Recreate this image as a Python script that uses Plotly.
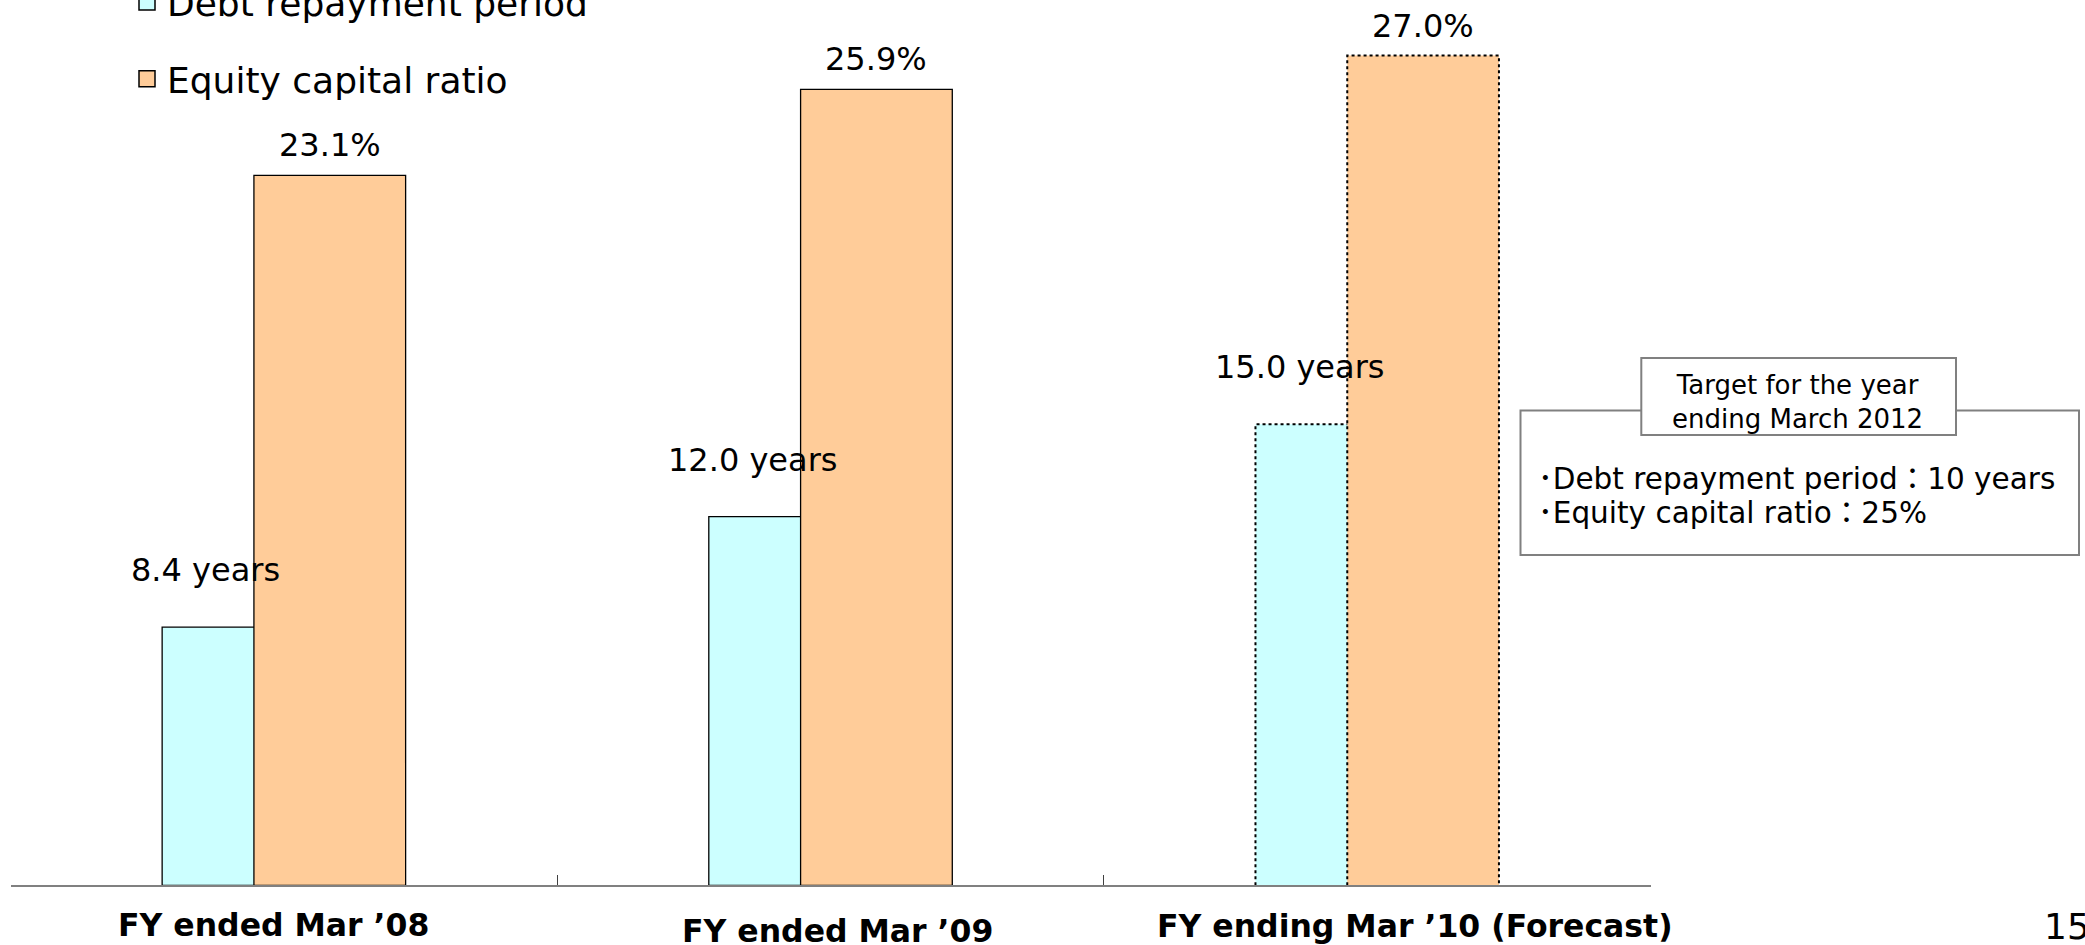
import plotly.graph_objects as go

# ---------------- data ----------------
categories = ["FY ended Mar ’08", "FY ended Mar ’09", "FY ending Mar ’10 (Forecast)"]
debt_years = [8.4, 12.0, 15.0]
equity_ratio = [23.1, 25.9, 27.0]
debt_labels = ["8.4 years", "12.0 years", "15.0 years"]
equity_labels = ["23.1%", "25.9%", "27.0%"]
series_names = ["Debt repayment period", "Equity capital ratio"]
is_forecast = [False, False, True]
target_title = "Target for the year<br>ending March 2012"
target_lines = ["･Debt repayment period：10 years", "･Equity capital ratio：25%"]
page_number = "15"

# ---------------- layout constants ----------------
W, H = 2085, 945
CYAN = "#CCFFFF"
ORANGE = "#FFCC99"
FONT = "DejaVu Sans, Noto Sans CJK JP, sans-serif"
BAR_W = 0.2775
OFF_D = -0.2228
OFF_E = -0.0549
Y_TOP = 28.81

xs = list(range(len(categories)))

fig = go.Figure()

fig.add_trace(go.Bar(
    x=xs, y=debt_years, width=BAR_W, offset=OFF_D, name=series_names[0],
    marker=dict(color=CYAN, line=dict(color="black", width=[0 if f else 1.3 for f in is_forecast])),
    showlegend=False, hoverinfo="skip"))
fig.add_trace(go.Bar(
    x=xs, y=equity_ratio, width=BAR_W, offset=OFF_E, name=series_names[1],
    marker=dict(color=ORANGE, line=dict(color="black", width=[0 if f else 1.3 for f in is_forecast])),
    showlegend=False, hoverinfo="skip"))

# dotted outlines for forecast bars
for i, f in enumerate(is_forecast):
    if not f:
        continue
    xl = i + OFF_D
    xe = i + OFF_E
    fig.add_trace(go.Scatter(
        x=[xl, xl, xe], y=[0, debt_years[i], debt_years[i]], mode="lines",
        line=dict(color="black", width=2, dash="3px,3px"), showlegend=False, hoverinfo="skip"))
    fig.add_trace(go.Scatter(
        x=[xe, xe, xe + BAR_W, xe + BAR_W], y=[0, equity_ratio[i], equity_ratio[i], 0], mode="lines",
        line=dict(color="black", width=2, dash="3px,3px"), showlegend=False, hoverinfo="skip"))

# legend entries
for name, col in zip(series_names, [CYAN, ORANGE]):
    fig.add_trace(go.Scatter(
        x=[None], y=[None], mode="markers", name=name, legendgroup=name,
        marker=dict(symbol="square", size=16, color=col, line=dict(color="black", width=1.5))))

annotations = []
for i in xs:
    annotations.append(dict(
        x=i + OFF_D + BAR_W / 2, y=debt_years[i], xref="x", yref="y",
        text=debt_labels[i], showarrow=False, xshift=-32, yshift=57, yanchor="middle",
        xanchor="center",
        font=dict(family=FONT, size=32, color="black")))
    annotations.append(dict(
        x=i + OFF_E + BAR_W / 2, y=equity_ratio[i], xref="x", yref="y",
        text=equity_labels[i], showarrow=False, yshift=30, yanchor="middle",
        xanchor="center",
        font=dict(family=FONT, size=32, color="black")))

label_dx = [-10, 7, 38]
label_py = [925, 931, 926]
for i, c in enumerate(categories):
    annotations.append(dict(
        x=i, y=1 - label_py[i] / H, xref="x", yref="paper", text=c, showarrow=False,
        xshift=label_dx[i], yanchor="middle", xanchor="center",
        font=dict(family=FONT, size=31.5, color="black", weight="bold")))

annotations.append(dict(
    x=1797 / W, y=1 - 402 / H, xref="paper", yref="paper", text=target_title,
    showarrow=False, align="center", xanchor="center", yanchor="middle",
    font=dict(family=FONT, size=26, color="black")))
for j, (t, py) in enumerate(zip(target_lines, [479, 513])):
    annotations.append(dict(
        x=1536 / W, y=1 - py / H, xref="paper", yref="paper", text=t,
        showarrow=False, xanchor="left", yanchor="middle",
        font=dict(family=FONT, size=29.5, color="black")))
annotations.append(dict(
    x=2042 / W, y=1 - 926 / H, xref="paper", yref="paper", text=page_number,
    showarrow=False, xanchor="left", yanchor="middle",
    font=dict(family=FONT, size=36, color="black")))

shapes = [
    dict(type="rect", xref="paper", yref="paper",
         x0=1520.5 / W, x1=2079 / W, y0=1 - 555 / H, y1=1 - 410.5 / H,
         line=dict(color="#808080", width=2), fillcolor="white", layer="below"),
    dict(type="rect", xref="paper", yref="paper",
         x0=1641.3 / W, x1=1956 / W, y0=1 - 435 / H, y1=1 - 358 / H,
         line=dict(color="#808080", width=2), fillcolor="white", layer="below"),
]

fig.update_layout(
    width=W, height=H,
    margin=dict(l=0, r=0, t=0, b=0, autoexpand=False),
    paper_bgcolor="white", plot_bgcolor="rgba(0,0,0,0)",
    barmode="overlay",
    showlegend=True,
    legend=dict(x=127 / W, xanchor="left", y=1 + 28 / H, yanchor="top",
                font=dict(family=FONT, size=36, color="black"),
                tracegroupgap=27, bgcolor="rgba(0,0,0,0)"),
    xaxis=dict(domain=[10.6 / W, 1650.6 / W], range=[-0.5, 2.5], showgrid=False, zeroline=False,
               showline=True, linecolor="#808080", linewidth=2,
               ticks="inside", tickvals=[-0.5, 0.5, 1.5, 2.5], ticklen=10, tickwidth=1,
               tickcolor="#404040", showticklabels=False, fixedrange=True),
    yaxis=dict(domain=[(H - 885.3) / H, 1], range=[0, Y_TOP], showgrid=False, zeroline=False,
               showline=False, showticklabels=False, ticks="", fixedrange=True),
    annotations=annotations,
    shapes=shapes,
)

fig.write_html("out.html")
